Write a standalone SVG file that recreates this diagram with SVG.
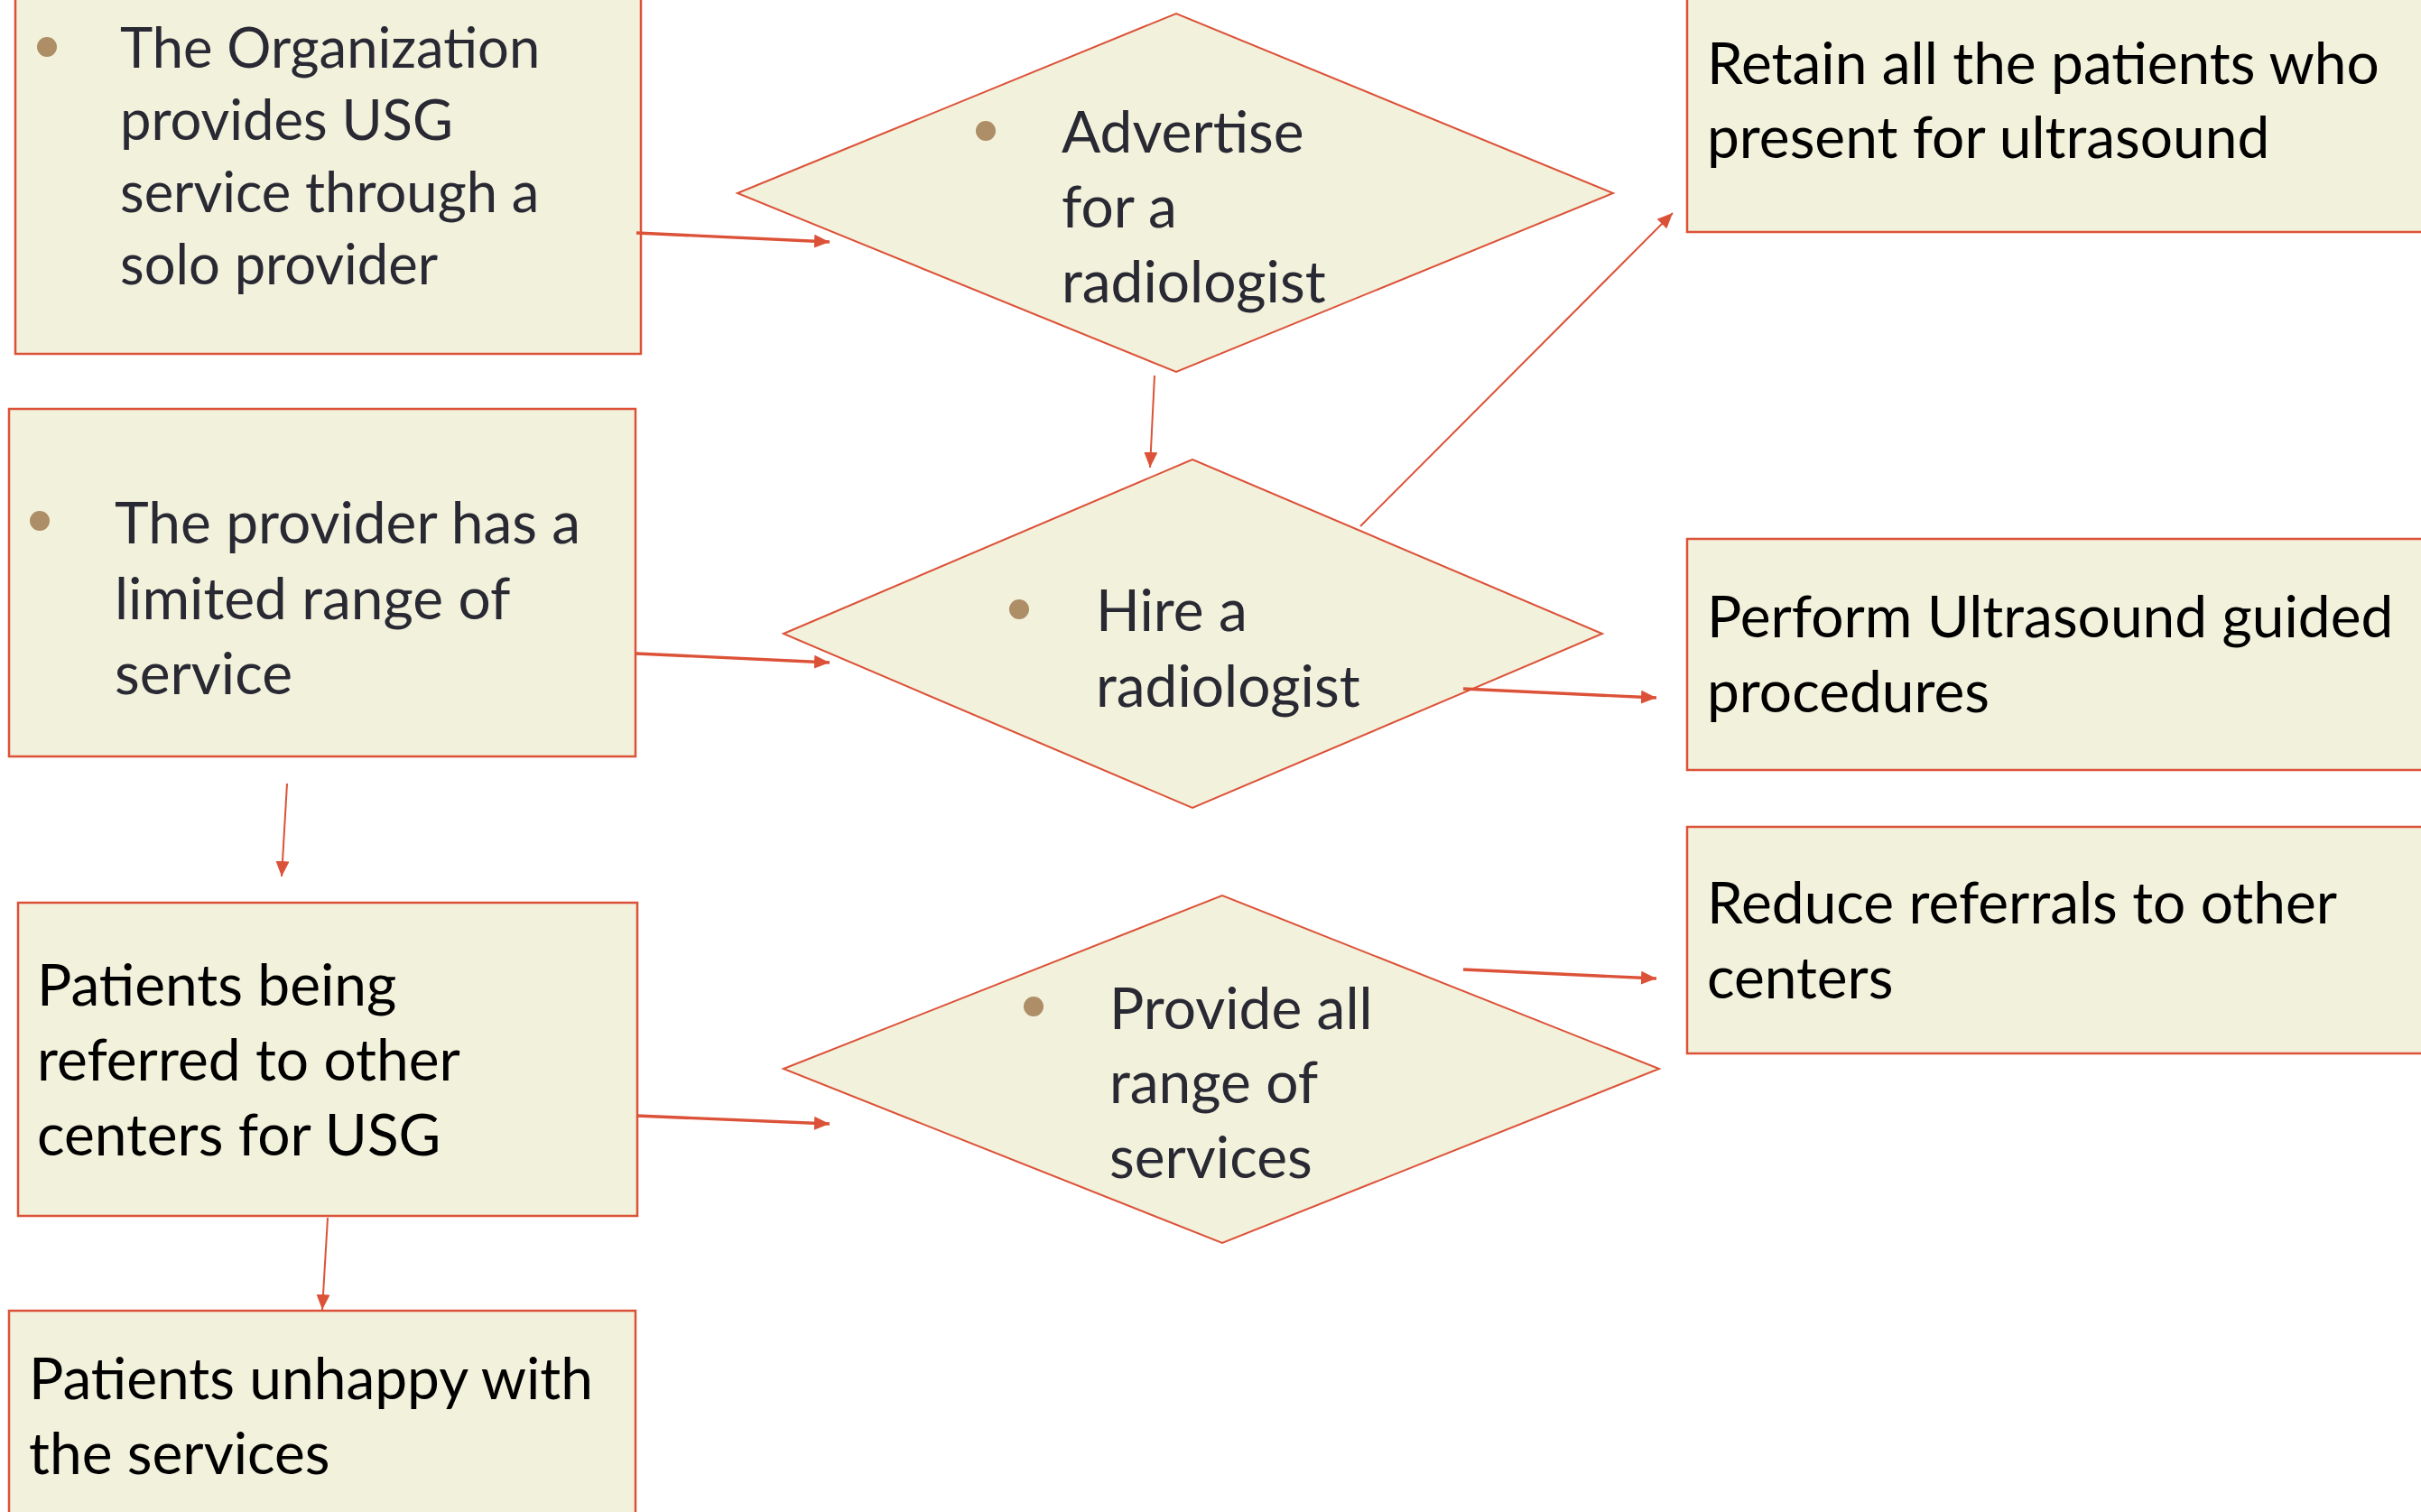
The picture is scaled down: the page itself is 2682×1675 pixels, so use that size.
<svg xmlns="http://www.w3.org/2000/svg" width="2682" height="1675" viewBox="0 0 2682 1675">
<style>
.node{fill:#F2F1DC;stroke:#DC5238;stroke-width:2.5}
.dia{fill:#F2F1DC;stroke:#DC5238;stroke-width:2}
.t{font-family:Lato,"Open Sans","Liberation Sans",sans-serif;font-size:64px;fill:#000}
.tb{font-family:Lato,"Open Sans","Liberation Sans",sans-serif;font-size:64px;fill:#292933}
.sm{font-size:61.5px}
.bul{fill:#AD8E66}
.c{stroke:#DC5238;fill:none;marker-end:url(#ah)}
.thick{stroke-width:3.4}
.thin{stroke-width:2}
</style>
<defs>
<marker id="ah" markerUnits="userSpaceOnUse" markerWidth="17" markerHeight="15" refX="17" refY="7.5" orient="auto">
<path d="M0,0 L17,7.5 L0,15 z" fill="#DC5238"/>
</marker>
</defs>
<rect width="2682" height="1675" fill="#fff"/>
<g id="n-organization">
<rect class="node" x="17" y="-20" width="693" height="412"/>
<circle class="bul" cx="52" cy="52" r="11"/>
<text class="tb sm" x="133" y="75">The Organization</text>
<text class="tb sm" x="133" y="155">provides USG</text>
<text class="tb sm" x="133" y="235">service through a</text>
<text class="tb sm" x="133" y="315">solo provider</text>
</g>
<g id="n-advertise">
<polygon class="dia" points="817,214 1303,15 1787,214 1303,412"/>
<circle class="bul" cx="1092" cy="145" r="11"/>
<text class="tb" x="1176" y="169">Advertise</text>
<text class="tb" x="1176" y="252">for a</text>
<text class="tb" x="1176" y="335">radiologist</text>
</g>
<g id="n-retain">
<rect class="node" x="1869" y="-20" width="900" height="277"/>
<text class="t" x="1891" y="93">Retain all the patients who</text>
<text class="t" x="1891" y="175">present for ultrasound</text>
</g>
<g id="n-provider">
<rect class="node" x="10" y="453" width="694" height="385"/>
<circle class="bul" cx="44" cy="577" r="11"/>
<text class="tb" x="127" y="602">The provider has a</text>
<text class="tb" x="127" y="686">limited range of</text>
<text class="tb" x="127" y="769">service</text>
</g>
<g id="n-hire">
<polygon class="dia" points="868,702 1321,509 1775,702 1321,895"/>
<circle class="bul" cx="1129" cy="675" r="11"/>
<text class="tb" x="1214" y="699">Hire a</text>
<text class="tb" x="1214" y="783">radiologist</text>
</g>
<g id="n-perform">
<rect class="node" x="1869" y="597" width="900" height="256"/>
<text class="t" x="1891" y="706">Perform Ultrasound guided</text>
<text class="t" x="1891" y="789">procedures</text>
</g>
<g id="n-reduce">
<rect class="node" x="1869" y="916" width="900" height="251"/>
<text class="t" x="1891" y="1023">Reduce referrals to other</text>
<text class="t" x="1891" y="1106">centers</text>
</g>
<g id="n-referred">
<rect class="node" x="20" y="1000" width="686" height="347"/>
<text class="t" x="41" y="1114">Patients being</text>
<text class="t" x="41" y="1197">referred to other</text>
<text class="t" x="41" y="1280">centers for USG</text>
</g>
<g id="n-provide">
<polygon class="dia" points="868,1184 1354,992 1838,1184 1354,1377"/>
<circle class="bul" cx="1145" cy="1115" r="11"/>
<text class="tb" x="1229" y="1140">Provide all</text>
<text class="tb" x="1229" y="1222">range of</text>
<text class="tb" x="1229" y="1305">services</text>
</g>
<g id="n-unhappy">
<rect class="node" x="10" y="1452" width="694" height="260"/>
<text class="t" x="32" y="1550">Patients unhappy with</text>
<text class="t" x="32" y="1633">the services</text>
</g>
<g id="connectors">
<line class="c thick" x1="705" y1="258" x2="919" y2="268"/>
<line class="c thick" x1="705" y1="724" x2="919" y2="734"/>
<line class="c thick" x1="705" y1="1236" x2="919" y2="1245"/>
<line class="c thin" x1="1279" y1="416" x2="1274" y2="518"/>
<line class="c thin" x1="1507" y1="583" x2="1853" y2="236"/>
<line class="c thick" x1="1621" y1="763" x2="1835" y2="773"/>
<line class="c thick" x1="1621" y1="1074" x2="1835" y2="1084"/>
<line class="c thin" x1="318" y1="868" x2="312" y2="971"/>
<line class="c thin" x1="363" y1="1349" x2="357" y2="1451"/>
</g>
</svg>
